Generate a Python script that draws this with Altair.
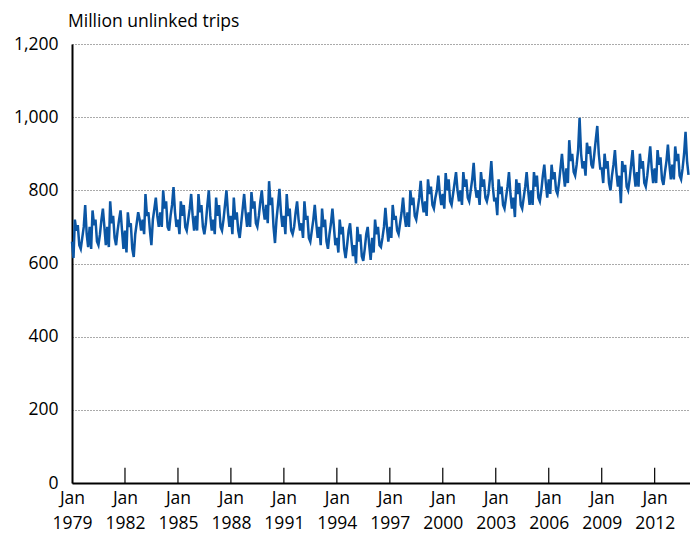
import altair as alt
import pandas as pd

# Monthly values (million unlinked trips), Jan 1979 - Dec 2013
y1979 = [660, 615, 720, 690, 705, 650, 640, 670, 700, 760, 680, 645]
y1980 = [700, 640, 745, 705, 720, 660, 650, 680, 720, 750, 700, 650]
y1981 = [700, 645, 770, 710, 730, 670, 650, 690, 720, 745, 690, 640]
y1982 = [690, 630, 740, 700, 710, 640, 618, 680, 710, 740, 720, 690]
y1983 = [720, 680, 790, 730, 740, 690, 650, 720, 750, 780, 730, 700]
y1984 = [740, 700, 800, 750, 770, 700, 690, 730, 760, 809, 740, 700]
y1985 = [720, 680, 770, 730, 760, 700, 690, 720, 750, 790, 730, 690]
y1986 = [730, 690, 790, 740, 760, 700, 680, 710, 760, 800, 730, 690]
y1987 = [720, 680, 780, 730, 760, 700, 690, 720, 760, 800, 740, 700]
y1988 = [730, 680, 780, 720, 740, 690, 670, 710, 750, 790, 740, 700]
y1989 = [740, 700, 795, 750, 770, 710, 700, 730, 770, 800, 750, 720]
y1990 = [760, 710, 825, 760, 780, 700, 656, 720, 760, 804, 740, 700]
y1991 = [730, 680, 790, 730, 750, 690, 680, 700, 740, 770, 720, 690]
y1992 = [710, 670, 770, 720, 730, 670, 660, 690, 720, 760, 710, 670]
y1993 = [700, 650, 750, 700, 720, 660, 640, 680, 710, 750, 700, 650]
y1994 = [670, 630, 720, 680, 700, 640, 615, 650, 690, 710, 660, 620]
y1995 = [650, 600, 700, 660, 680, 620, 607, 640, 680, 700, 650, 610]
y1996 = [670, 630, 720, 680, 700, 650, 645, 670, 700, 752, 700, 660]
y1997 = [700, 670, 760, 720, 730, 690, 680, 710, 740, 780, 730, 700]
y1998 = [740, 700, 800, 760, 780, 730, 720, 750, 780, 826, 770, 740]
y1999 = [770, 730, 830, 790, 810, 760, 750, 780, 800, 840, 790, 760]
y2000 = [790, 750, 847, 800, 830, 770, 760, 790, 820, 850, 800, 770]
y2001 = [800, 760, 850, 810, 830, 780, 770, 800, 830, 875, 810, 780]
y2002 = [800, 760, 850, 810, 830, 780, 770, 790, 830, 880, 810, 770]
y2003 = [780, 732, 830, 790, 810, 760, 750, 780, 810, 850, 790, 750]
y2004 = [780, 727, 830, 790, 820, 760, 750, 780, 810, 850, 800, 760]
y2005 = [800, 760, 850, 810, 840, 780, 770, 800, 840, 870, 820, 780]
y2006 = [830, 790, 870, 830, 850, 800, 790, 820, 860, 900, 850, 810]
y2007 = [860, 820, 937, 880, 900, 850, 840, 870, 910, 998, 900, 860]
y2008 = [880, 840, 930, 900, 920, 870, 860, 900, 940, 976, 900, 860]
y2009 = [860, 820, 900, 860, 880, 820, 800, 840, 870, 910, 850, 810]
y2010 = [840, 765, 880, 850, 870, 810, 800, 830, 870, 910, 850, 810]
y2011 = [850, 810, 900, 860, 880, 820, 810, 840, 880, 920, 860, 820]
y2012 = [860, 820, 910, 870, 890, 830, 815, 850, 880, 925, 870, 830]
y2013 = [870, 830, 920, 880, 900, 840, 830, 860, 900, 960, 880, 842]

years = [y1979, y1980, y1981, y1982, y1983, y1984, y1985, y1986, y1987, y1988,
         y1989, y1990, y1991, y1992, y1993, y1994, y1995, y1996, y1997, y1998,
         y1999, y2000, y2001, y2002, y2003, y2004, y2005, y2006, y2007, y2008,
         y2009, y2010, y2011, y2012, y2013]
values = [v for yr in years for v in yr]

tick_years = [1979, 1982, 1985, 1988, 1991, 1994, 1997, 2000, 2003, 2006, 2009, 2012]
y_ticks = [0, 200, 400, 600, 800, 1000, 1200]

dates = pd.date_range("1979-01-01", periods=len(values), freq="MS")
df = pd.DataFrame({"date": dates, "trips": values})
ticks_df = pd.DataFrame({"date": pd.to_datetime([f"{y}-01-01" for y in tick_years[1:]])})

FONT = "Open Sans"
FS = 17.5

x_scale = alt.Scale(domain=[alt.DateTime(year=1979, month=1, date=1),
                            alt.DateTime(year=2014, month=1, date=1)])
y_scale = alt.Scale(domain=[0, 1200], nice=False)

x_axis = alt.Axis(
    values=[alt.DateTime(year=y, month=1, date=1) for y in tick_years],
    labelExpr="['Jan', timeFormat(datum.value, '%Y')]",
    title=None, grid=False, ticks=False, domain=True,
    domainColor="black", domainWidth=2,
    labelFont=FONT, labelFontSize=FS, labelColor="black",
    labelPadding=6, labelLineHeight=25, labelFlush=False, labelOverlap=False,
)
y_axis = alt.Axis(
    values=y_ticks, format=",d", title=None, ticks=False,
    domain=True, domainColor="black", domainWidth=2,
    grid=True, gridColor="#555555", gridDash=[1, 2], gridWidth=1,
    labelFont=FONT, labelFontSize=FS, labelColor="black", labelPadding=14,
)

line = alt.Chart(df).mark_line(color="#0B56A4", strokeWidth=2.5).encode(
    x=alt.X("date:T", scale=x_scale, axis=x_axis),
    y=alt.Y("trips:Q", scale=y_scale, axis=y_axis),
)

tick_rules = alt.Chart(ticks_df).mark_rule(color="black", strokeWidth=1.2).encode(
    x=alt.X("date:T", scale=x_scale),
    y=alt.datum(0),
    y2=alt.datum(42),
)

chart = alt.layer(tick_rules, line).properties(
    width=618,
    height=439,
    autosize=alt.AutoSizeParams(type="none"),
    padding={"left": 64, "top": 36, "right": 0, "bottom": 52},
    title=alt.TitleParams(
        "Million unlinked trips", anchor="start", frame="group",
        font=FONT, fontSize=FS, fontWeight="normal", color="black",
        offset=5, dx=-4,
    ),
).configure_view(stroke=None)

chart.save("out.html", embed_options={"renderer": "svg", "actions": False})
